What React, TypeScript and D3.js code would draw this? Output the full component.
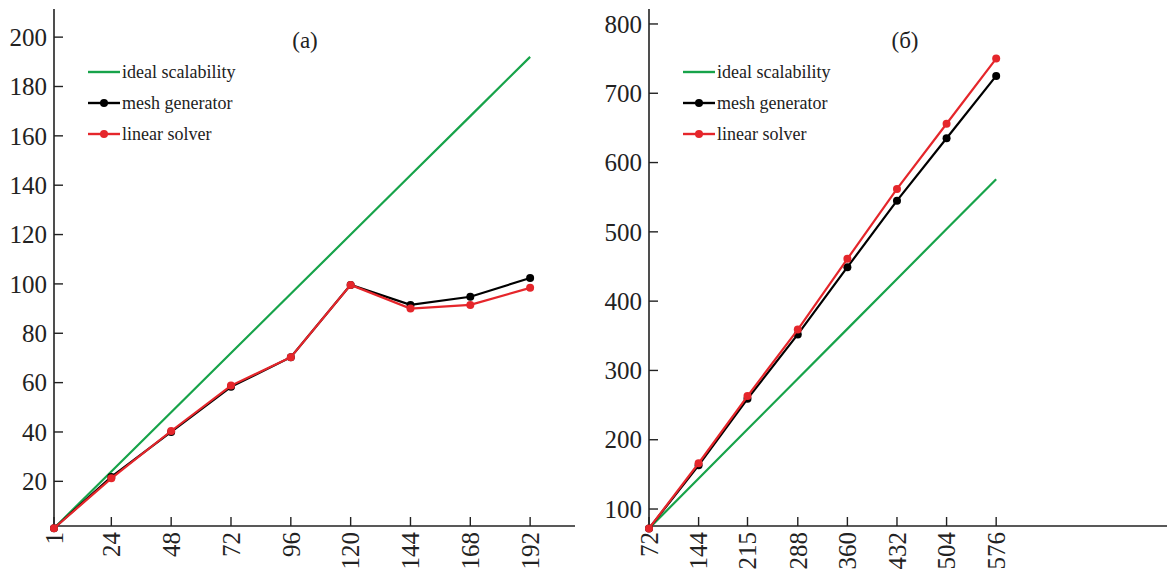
import { useEffect, useRef } from 'react';
import * as d3 from 'd3';

// panel (a)
const coresA = [1, 24, 48, 72, 96, 120, 144, 168, 192];
const idealA = [1, 24, 48, 72, 96, 120, 144, 168, 192];
const meshA = [1, 21.8, 40, 58.3, 70.3, 99.6, 91.5, 94.8, 102.4];
const solverA = [1, 21.2, 40.4, 58.8, 70.3, 99.6, 90, 91.5, 98.4];
const xTicksA = [1, 24, 48, 72, 96, 120, 144, 168, 192];
const yTicksA = [20, 40, 60, 80, 100, 120, 140, 160, 180, 200];

// panel (б)
const coresB = [72, 144, 215, 288, 360, 432, 504, 576];
const idealB = [72, 144, 215, 288, 360, 432, 504, 576];
const meshB = [72, 163, 259, 352, 449, 545, 635, 725];
const solverB = [72, 166, 263, 359, 461, 562, 656, 750];
const xTicksB = [72, 144, 215, 288, 360, 432, 504, 576];
const yTicksB = [100, 200, 300, 400, 500, 600, 700, 800];

const seriesNames = ['ideal scalability', 'mesh generator', 'linear solver'];
const colors = ['#17a34a', '#000000', '#e5262b'];

const W = 1167;
const H = 574;
const FONT = "'Liberation Serif', 'Times New Roman', Tinos, 'DejaVu Serif', serif";

const App = () => {
  const svgRef = useRef(null);

  useEffect(() => {
    const svg = d3.select(svgRef.current);
    svg.selectAll('*').remove();

    const panels = [
      {
        title: '(a)',
        titleX: 305,
        x: d3.scaleLinear().domain([1, 210]).range([54, 575]),
        y: d3.scaleLinear().domain([1.9, 211.4]).range([526, 9]),
        cores: coresA,
        series: [idealA, meshA, solverA],
        xTicks: xTicksA,
        yTicks: yTicksA,
        legendX: 88,
      },
      {
        title: '(б)',
        titleX: 905,
        x: d3.scaleLinear().domain([72, 824]).range([649, 1167]),
        y: d3.scaleLinear().domain([75.5, 821.6]).range([526, 9]),
        cores: coresB,
        series: [idealB, meshB, solverB],
        xTicks: xTicksB,
        yTicks: yTicksB,
        legendX: 683,
      },
    ];

    panels.forEach((p) => {
      const [x0, x1] = p.x.range();
      const [yb, yt] = p.y.range();
      const g = svg.append('g');

      // оси
      g.append('line')
        .attr('x1', x0).attr('x2', x0)
        .attr('y1', yt).attr('y2', yb)
        .attr('stroke', '#222').attr('stroke-width', 1.6);
      g.append('line')
        .attr('x1', x0).attr('x2', x1)
        .attr('y1', yb).attr('y2', yb)
        .attr('stroke', '#222').attr('stroke-width', 1.6);

      // y ticks (inward)
      p.yTicks.forEach((t) => {
        const yy = p.y(t);
        g.append('line')
          .attr('x1', x0).attr('x2', x0 + 9)
          .attr('y1', yy).attr('y2', yy)
          .attr('stroke', '#222').attr('stroke-width', 1.4);
        g.append('text')
          .attr('x', x0 - 7)
          .attr('y', yy)
          .attr('dy', '0.35em')
          .attr('text-anchor', 'end')
          .attr('fill', '#222')
          .attr('font-family', FONT)
          .attr('font-size', 25)
          .text(t);
      });

      // x ticks (inward) with rotated labels
      p.xTicks.forEach((t) => {
        const xx = p.x(t);
        g.append('line')
          .attr('x1', xx).attr('x2', xx)
          .attr('y1', yb).attr('y2', yb - 9)
          .attr('stroke', '#222').attr('stroke-width', 1.4);
        g.append('text')
          .attr('transform', `translate(${xx},${yb + 6}) rotate(-90)`)
          .attr('dy', '0.35em')
          .attr('text-anchor', 'end')
          .attr('fill', '#222')
          .attr('font-family', FONT)
          .attr('font-size', 25)
          .text(t);
      });

      // title
      g.append('text')
        .attr('x', p.titleX)
        .attr('y', 40)
        .attr('dy', '0.35em')
        .attr('text-anchor', 'middle')
        .attr('fill', '#222')
        .attr('font-family', FONT)
        .attr('font-size', 23)
        .text(p.title);

      // series
      p.series.forEach((vals, si) => {
        const pts = p.cores.map((c, i) => [c, vals[i]]);
        const line = d3
          .line()
          .x((d) => p.x(d[0]))
          .y((d) => p.y(d[1]));
        g.append('path')
          .attr('d', line(pts))
          .attr('fill', 'none')
          .attr('stroke', colors[si])
          .attr('stroke-width', 2.2);
        if (si > 0) {
          g.selectAll(null)
            .data(pts)
            .enter()
            .append('circle')
            .attr('cx', (d) => p.x(d[0]))
            .attr('cy', (d) => p.y(d[1]))
            .attr('r', 4)
            .attr('fill', colors[si]);
        }
      });

      // legend
      seriesNames.forEach((name, i) => {
        const ly = 72 + i * 31;
        g.append('line')
          .attr('x1', p.legendX).attr('x2', p.legendX + 32)
          .attr('y1', ly).attr('y2', ly)
          .attr('stroke', colors[i]).attr('stroke-width', 2.4);
        if (i > 0) {
          g.append('circle')
            .attr('cx', p.legendX + 16)
            .attr('cy', ly)
            .attr('r', 4)
            .attr('fill', colors[i]);
        }
        g.append('text')
          .attr('x', p.legendX + 34)
          .attr('y', ly)
          .attr('dy', '0.35em')
          .attr('fill', '#222')
          .attr('font-family', FONT)
          .attr('font-size', 18)
          .text(name);
      });
    });
  }, []);

  return (
    <svg
      ref={svgRef}
      width={W}
      height={H}
      style={{ position: 'absolute', left: 0, top: 0, background: '#fff' }}
    />
  );
};

export default App;
